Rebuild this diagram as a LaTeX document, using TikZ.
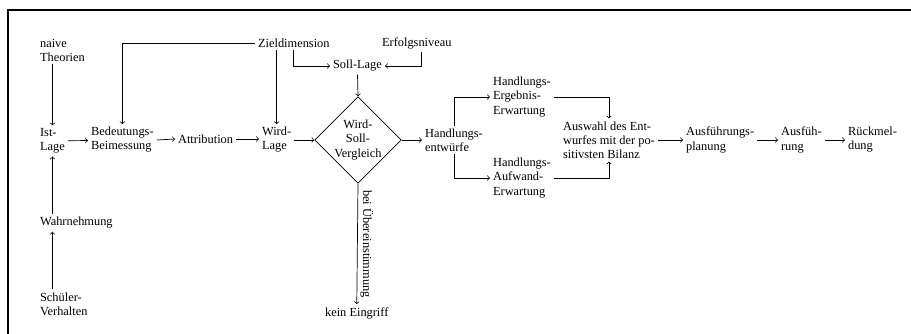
\documentclass[tikz,border=0pt]{standalone}
\usepackage{fontspec}
\setmainfont{Liberation Serif}
\usepackage{tikz}
\usetikzlibrary{shapes.geometric, calc}
\tikzset{txt/.style={font=\fontsize{8.8}{10}\selectfont, align=left, inner sep=2pt, anchor=west},
  arr/.style={->, >=to, line width=.5pt},
  ln/.style={line width=.5pt}}

\begin{document}
\begin{tikzpicture}[x=0.025cm, y=-0.025cm]
                 \useasboundingbox (0,0) rectangle (911,334);
                 \draw[line width=2pt] (8,334) -- (8,10) -- (911,10);

                 % linke Spalte
                 \node[txt] (naiv) at (37,50) {naive\\Theorien};
                 \node[txt] (ist) at (37,141) {Ist-\\Lage};
                 \node[txt] (wahr) at (37,223) {Wahrnehmung};
                 \node[txt] (schueler) at (37,304) {Sch\"uler-\\Verhalten};

                 % Hauptzeile
                 \node[txt] (bedeut) at (88,140) {Bedeutungs-\\Beimessung};
                 \node[txt] (attr) at (175,139) {Attribution};
                 \node[txt] (wird) at (259,140) {Wird-\\Lage};
                 \node[diamond, draw, line width=.5pt, minimum width=2cm, minimum height=2cm,
                       inner sep=0pt, align=center, font=\fontsize{8.8}{10}\selectfont]
                       (vgl) at (358,140) {Wird-\\Soll-\\Vergleich};
                 \node[txt] (entw) at (422,140) {Handlungs-\\entw\"urfe};
                 \node[txt] (ergeb) at (490,97) {Handlungs-\\Ergebnis-\\Erwartung};
                 \node[txt] (aufw) at (490,178) {Handlungs-\\Aufwand-\\Erwartung};
                 \node[txt] (ausw) at (560,140) {Auswahl des Ent-\\wurfes mit der po-\\sitivsten Bilanz};
                 \node[txt] (plan) at (683,140) {Ausf\"uhrungs-\\planung};
                 \node[txt] (ausf) at (778,140) {Ausf\"uh-\\rung};
                 \node[txt] (rueck) at (845,140) {R\"uckmel-\\dung};

                 % oben
                 \node[txt] (ziel) at (255,43) {Zieldimension};
                 \node[txt] (erfolg) at (379,43) {Erfolgsniveau};
                 \node[txt] (soll) at (330,66) {Soll-Lage};

                 % unten
                 \node[txt] (kein) at (322,313) {kein Eingriff};

                 \draw[arr] (naiv.south -| ist) -- (ist.north);
                 \draw[arr] (wahr.north -| ist) -- (ist.south);
                 \draw[arr] (schueler.north -| ist) -- (wahr.south -| ist);

                 \draw[arr] (ist) -- (bedeut);
                 \draw[arr] (bedeut.east) -- (attr.west);
                 \draw[arr] (attr.east) -- (wird.west |- attr.east);
                 \draw[arr] (wird.east) -- (vgl.west);
                 \draw[arr] (vgl.east) -- (entw.west);

                 \draw[arr] (ziel.west) -| (bedeut.north);
                 \draw[arr] (ziel.south -| wird) -- (wird.north);
                 \draw[arr] (ziel.south) |- (soll.west);
                 \draw[arr] ($(erfolg.south)+(5,0)$) |- (soll.east);
                 \draw[arr] (soll.south) -- (vgl.north);

                 \draw[arr] (vgl.south) -- node[midway, anchor=south, rotate=-90, inner sep=2pt,
                       font=\fontsize{8.8}{10}\selectfont] {bei \"Ubereinstimmung} (kein.north);

                 \draw[arr] (entw.north) |- (ergeb.west);
                 \draw[arr] (entw.south) |- (aufw.west);
                 \draw[arr] (ergeb.east) -| (ausw.north);
                 \draw[arr] (aufw.east) -| (ausw.south);

                 \draw[arr] (ausw.east) -- (plan.west);
                 \draw[arr] (plan.east) -- (ausf.west);
                 \draw[arr] (ausf.east) -- (rueck.west);
                 \end{tikzpicture}
\end{document}
